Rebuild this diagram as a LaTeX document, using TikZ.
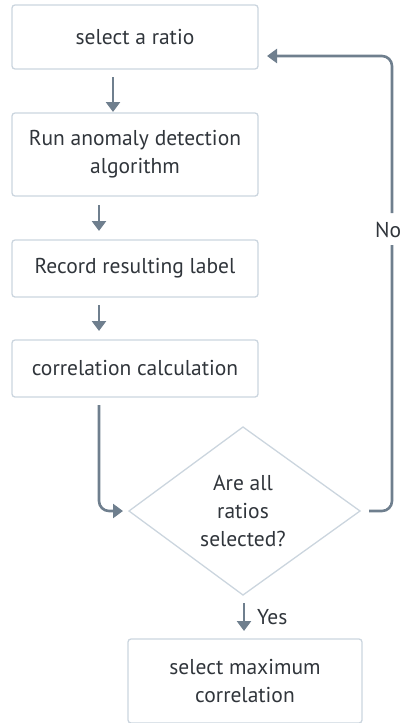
\documentclass[tikz,border=0pt]{standalone}
\usepackage{fontspec}
\setmainfont{PT Sans}
\usetikzlibrary{shapes.geometric,arrows.meta}
\definecolor{boxline}{HTML}{CBD5DE}
\definecolor{flow}{HTML}{6F7F8E}
\definecolor{ink}{HTML}{30353B}
\begin{document}
\begin{tikzpicture}[x=1pt,y=-1pt,
  every node/.style={font=\fontsize{21.5}{28}\selectfont, text=ink},
  stepbox/.style={draw=boxline, line width=1.3pt, rounded corners=3pt, align=center},
  flowarrow/.style={draw=flow, line width=2.6pt, -{Triangle[length=10pt,width=14pt]}},
  flowline/.style={draw=flow, line width=2.6pt}]
\useasboundingbox (0,0) rectangle (402,723);
% process boxes
\node[stepbox, minimum width=246pt, minimum height=64pt] (s1) at (135,37) {select a ratio};
\node[stepbox, minimum width=246pt, minimum height=83pt] (s2) at (135,154.5) {Run anomaly detection\\algorithm};
\node[stepbox, minimum width=246pt, minimum height=57pt] (s3) at (135,268.5) {Record resulting label};
\node[stepbox, minimum width=246pt, minimum height=57pt] (s4) at (135,368.5) {correlation calculation};
% decision
\path[draw=boxline, line width=1.3pt] (243,427) -- (360,511) -- (243,595) -- (129,511) -- cycle;
\node[align=center] (q) at (243,511) {Are all\\ratios\\selected?};
% final box
\node[stepbox, minimum width=234pt, minimum height=84pt] (s5) at (245,681) {select maximum\\correlation};
% straight arrows between boxes
\draw[flowarrow] (113,77) -- (113,112);
\draw[flowarrow] (99,205) -- (99,231);
\draw[flowarrow] (99,305) -- (99,331);
% into the decision
\coordinate (c1) at (99,405);
\draw[flowarrow, rounded corners=10pt] (c1) -- (99,511) -- (123,511);
% yes branch
\draw[flowarrow] (244,603) -- (244,631);
\node[anchor=west, inner sep=0pt] (yes) at (257,617) {Yes};
% no branch, looping back up
\coordinate (r1) at (369,511);
\node[anchor=west, inner sep=0pt] (no) at (375,230) {No};
\draw[flowline, rounded corners=10pt] (r1) -- (392,511) -- (392,245);
\draw[flowarrow, rounded corners=10pt] (392,213) -- (392,56) -- (267,56);
\end{tikzpicture}
\end{document}
